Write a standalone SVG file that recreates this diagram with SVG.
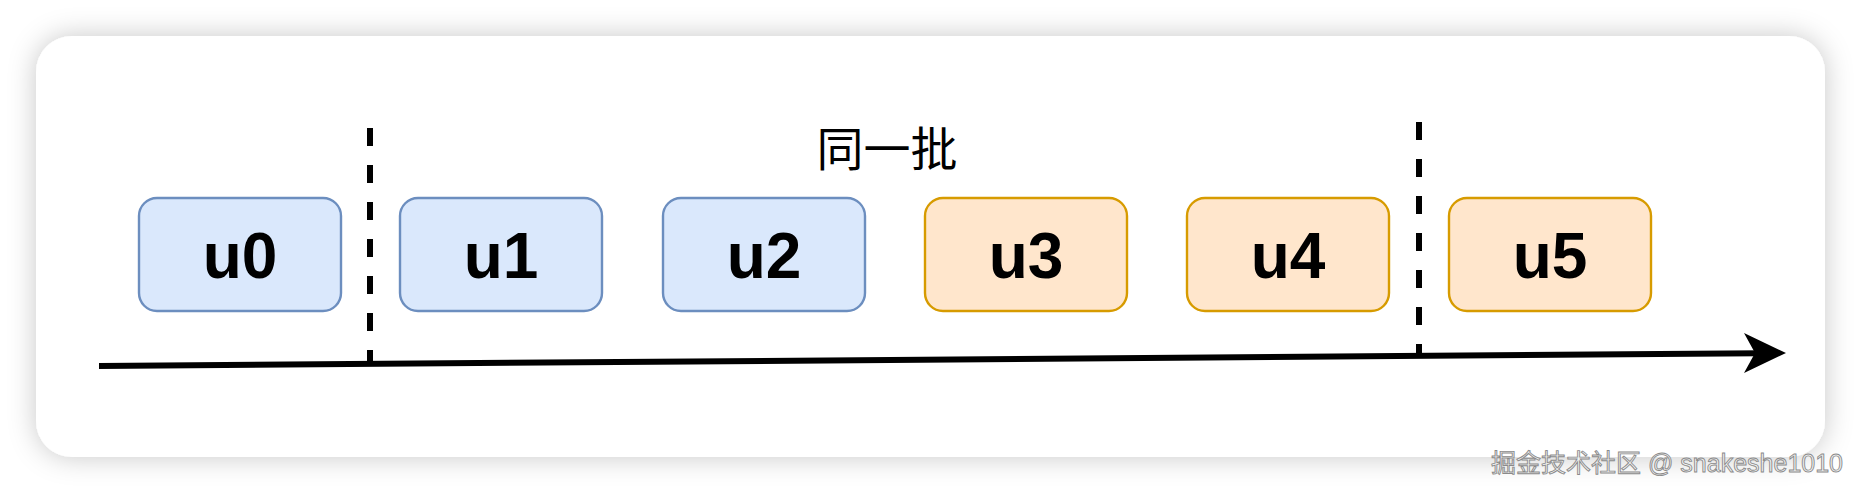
<svg xmlns="http://www.w3.org/2000/svg" width="1862" height="494" viewBox="0 0 1862 494">
<style>
.box rect{stroke-width:2.4}
.blue rect{fill:#dae8fc;stroke:#6c8ebf}
.orange rect{fill:#ffe6cc;stroke:#d79b00}
.lbl{font-family:"Liberation Sans",Arial,sans-serif;font-weight:bold;font-size:64px;text-anchor:middle;fill:#000}
.dash{stroke:#000;stroke-width:6;stroke-dasharray:18 19;fill:none}
</style>
<defs>
<filter id="sh" x="-5%" y="-20%" width="110%" height="140%">
<feDropShadow dx="0" dy="0" stdDeviation="14" flood-color="#000" flood-opacity="0.22"/>
</filter>
</defs>
<rect width="1862" height="494" fill="#ffffff"/>
<rect id="card" x="36" y="36" width="1789" height="421" rx="36" fill="#ffffff" filter="url(#sh)"/>
<g id="connectors">
<line class="dash" x1="370" y1="128" x2="370" y2="362"/>
<line class="dash" x1="1419" y1="122" x2="1419" y2="356"/>
<line x1="99" y1="366" x2="1760" y2="353.2" stroke="#000" stroke-width="6"/>
<path d="M1786,353 L1744,333 L1755,353 L1744,373 Z" fill="#000"/>
</g>
<text id="batch" x="887" y="166" font-family="'Noto Sans CJK SC',sans-serif" font-size="47" text-anchor="middle" fill="#000">同一批</text>
<g id="u0" class="box blue"><rect x="139" y="198" width="202" height="113" rx="18"/><text class="lbl" x="240" y="278">u0</text></g>
<g id="u1" class="box blue"><rect x="400" y="198" width="202" height="113" rx="18"/><text class="lbl" x="501" y="278">u1</text></g>
<g id="u2" class="box blue"><rect x="663" y="198" width="202" height="113" rx="18"/><text class="lbl" x="764" y="278">u2</text></g>
<g id="u3" class="box orange"><rect x="925" y="198" width="202" height="113" rx="18"/><text class="lbl" x="1026" y="278">u3</text></g>
<g id="u4" class="box orange"><rect x="1187" y="198" width="202" height="113" rx="18"/><text class="lbl" x="1288" y="278">u4</text></g>
<g id="u5" class="box orange"><rect x="1449" y="198" width="202" height="113" rx="18"/><text class="lbl" x="1550" y="278">u5</text></g>
<text id="watermark" x="1843" y="472" font-family="'Liberation Sans','Noto Sans CJK SC',sans-serif" font-size="25" text-anchor="end" fill="#f2f2f2" stroke="#8a8a8a" stroke-width="0.9">掘金技术社区 @ snakeshe1010</text>
</svg>
